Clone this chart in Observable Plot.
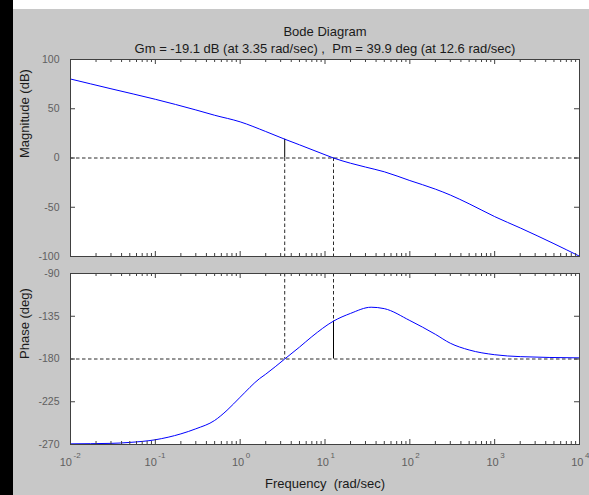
<!DOCTYPE html>
<html><head><meta charset="utf-8">
<script src="https://cdn.jsdelivr.net/npm/d3@7"></script>
<script src="https://cdn.jsdelivr.net/npm/@observablehq/plot@0.6"></script>
<style>
body{margin:0;background:#fff;}
#fig{position:relative;width:589px;height:495px;overflow:hidden;}
#strip{position:absolute;left:0;top:0;width:13px;height:495px;background:#000;}
#bg{position:absolute;left:13px;top:9px;width:576px;height:486px;background:#c8c8c8;}
#mag,#phase{position:absolute;left:0;}
#mag{top:0;}
#phase{top:260px;}
svg{white-space:pre;}
</style></head><body>
<div id="fig"><div id="strip"></div><div id="bg"></div><div id="mag"></div><div id="phase"></div></div>
<script>
// ---- text ----
const title = "Bode Diagram";
const subtitle = "Gm = -19.1 dB (at 3.35 rad/sec) ,  Pm = 39.9 deg (at 12.6 rad/sec)";
const magLabel = "Magnitude (dB)";
const phaseLabel = "Phase (deg)";
const freqLabel = "Frequency  (rad/sec)";

// ---- margins ----
const gmDb = -19.1, gmFreq = 3.35;
const pmDeg = 39.9, pmFreq = 12.6;

// ---- magnitude curve ----
const magFreq = [0.01, 0.03, 0.1, 0.3, 0.5, 1, 2, 3.35, 5, 10, 12.6, 20, 30, 50, 100, 200, 300, 500, 1000, 2000, 5000, 10000];
const magDb   = [80.2, 70.3, 59.6, 48.8, 43.4, 36.7, 26.9, 19.1, 13.4, 3.3, 0, -5.3, -9.2, -14.0, -22.9, -31.6, -37.6, -46.5, -59.5, -71, -87, -99.7];

// ---- phase curve ----
const phFreq = [0.01, 0.03, 0.05, 0.1, 0.2, 0.3, 0.5, 0.7, 1, 1.7, 2, 3.35, 5, 7, 12.6, 20, 35, 50, 100, 200, 300, 500, 1000, 2000, 10000];
const phDeg  = [-269.3, -268.8, -267.8, -265, -258.8, -253.5, -244.7, -234, -220.2, -200.5, -196, -180, -167.5, -156.5, -140.1, -132, -125.5, -127, -139.5, -154, -163.4, -170.5, -175.5, -177.5, -178.8];

// ---- axes ----
const decades = [-2, -1, 0, 1, 2, 3, 4];
const magTicks = [100, 50, 0, -50, -100];
const phTicks = [-90, -135, -180, -225, -270];
const minorMult = [2, 3, 4, 5, 6, 7, 8, 9];

const xMajor = decades.map(e => Math.pow(10, e));
const xMinor = decades.slice(0, -1).flatMap(e => minorMult.map(m => m * Math.pow(10, e)));

const W = 589, ML = 70, MR = 10;
const PW = W - ML - MR;
const frameCol = "#404040", tickTxt = "#606060", txtCol = "#1a1a1a", dashCol = "#2a2a2a";
const dash = "3.5,2.5";
const font = "Liberation Sans, Arial, Helvetica, sans-serif";
const labelSize = 13;

function tickMarks(H, yTicks) {
  return [
    Plot.tickX(xMajor, {x: d => d, stroke: frameCol, insetTop: H - 5}),
    Plot.tickX(xMajor, {x: d => d, stroke: frameCol, insetBottom: H - 5}),
    Plot.tickX(xMinor, {x: d => d, stroke: frameCol, insetTop: H - 3}),
    Plot.tickX(xMinor, {x: d => d, stroke: frameCol, insetBottom: H - 3}),
    Plot.tickY(yTicks, {y: d => d, stroke: frameCol, insetRight: PW - 5}),
    Plot.tickY(yTicks, {y: d => d, stroke: frameCol, insetLeft: PW - 5}),
    Plot.text(yTicks, {y: d => d, frameAnchor: "left", dx: -11, textAnchor: "end", text: d => String(d), fill: tickTxt, fontSize: 10.5})
  ];
}

// ---- magnitude plot ----
const magH = 270, magMT = 59, magMB = 14;
const magData = magFreq.map((f, i) => ({f, v: magDb[i]}));
const magPlot = Plot.plot({
  width: W, height: magH,
  marginLeft: ML, marginRight: MR, marginTop: magMT, marginBottom: magMB,
  style: {background: "transparent", fontFamily: font, fontSize: "10.5px", overflow: "visible"},
  x: {type: "log", domain: [0.01, 10000], axis: null},
  y: {domain: [-100, 100], axis: null},
  marks: [
    Plot.frame({fill: "white", stroke: null}),
    Plot.ruleY([0], {stroke: dashCol, strokeDasharray: dash}),
    Plot.ruleX([gmFreq, pmFreq], {y1: 0, y2: -100, stroke: dashCol, strokeDasharray: dash}),
    Plot.ruleX([gmFreq], {y1: 0, y2: -gmDb, stroke: "#000"}),
    Plot.line(magData, {x: "f", y: "v", stroke: "#0000ff", strokeWidth: 1, curve: "monotone-x"}),
    ...tickMarks(magH - magMT - magMB, magTicks),
    Plot.frame({stroke: frameCol}),
    Plot.text([title], {frameAnchor: "top", dy: -33, text: d => d, fill: txtCol, fontSize: labelSize}),
    Plot.text([subtitle], {frameAnchor: "top", dy: -16, text: d => d, fill: txtCol, fontSize: labelSize}),
    Plot.text([magLabel], {frameAnchor: "left", dx: -46, rotate: -90, text: d => d, fill: txtCol, fontSize: labelSize})
  ]
});
document.getElementById("mag").appendChild(magPlot);

// ---- phase plot ----
const phH = 235, phMT = 13, phMB = 51;
const phData = phFreq.map((f, i) => ({f, v: phDeg[i]}));
const negE = decades.filter(e => e < 0), posE = decades.filter(e => e >= 0);
const phPlot = Plot.plot({
  width: W, height: phH,
  marginLeft: ML, marginRight: MR, marginTop: phMT, marginBottom: phMB,
  style: {background: "transparent", fontFamily: font, fontSize: "10.5px", overflow: "visible"},
  x: {type: "log", domain: [0.01, 10000], axis: null},
  y: {domain: [-270, -90], axis: null},
  marks: [
    Plot.frame({fill: "white", stroke: null}),
    Plot.ruleY([-180], {stroke: dashCol, strokeDasharray: dash}),
    Plot.ruleX([gmFreq], {y1: -90, y2: -180, stroke: dashCol, strokeDasharray: dash}),
    Plot.ruleX([pmFreq], {y1: -90, y2: -180 + pmDeg, stroke: dashCol, strokeDasharray: dash}),
    Plot.ruleX([pmFreq], {y1: -180 + pmDeg, y2: -180, stroke: "#000"}),
    Plot.line(phData, {x: "f", y: "v", stroke: "#0000ff", strokeWidth: 1, curve: "monotone-x"}),
    ...tickMarks(phH - phMT - phMB, phTicks),
    Plot.frame({stroke: frameCol}),
    Plot.text(negE, {x: e => Math.pow(10, e), frameAnchor: "bottom", dy: 21, dx: 1.5, textAnchor: "end", text: () => "10", fill: tickTxt, fontSize: 11}),
    Plot.text(negE, {x: e => Math.pow(10, e), frameAnchor: "bottom", dy: 13, dx: 3, textAnchor: "start", text: e => String(e), fill: tickTxt, fontSize: 8}),
    Plot.text(posE, {x: e => Math.pow(10, e), frameAnchor: "bottom", dy: 21, dx: 4, textAnchor: "end", text: () => "10", fill: tickTxt, fontSize: 11}),
    Plot.text(posE, {x: e => Math.pow(10, e), frameAnchor: "bottom", dy: 13, dx: 5.5, textAnchor: "start", text: e => String(e), fill: tickTxt, fontSize: 8}),
    Plot.text([phaseLabel], {frameAnchor: "left", dx: -46, rotate: -90, text: d => d, fill: txtCol, fontSize: labelSize}),
    Plot.text([freqLabel], {frameAnchor: "bottom", dy: 43, text: d => d, fill: txtCol, fontSize: labelSize})
  ]
});
document.getElementById("phase").appendChild(phPlot);
</script>
</body></html>
